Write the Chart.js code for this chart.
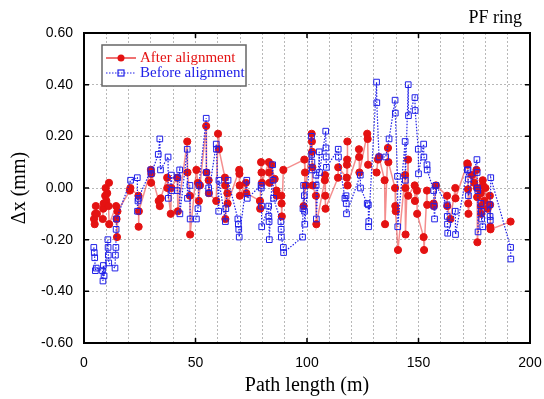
<!DOCTYPE html>
<html>
<head>
<meta charset="utf-8">
<script src="https://cdn.jsdelivr.net/npm/chart.js@4/dist/chart.umd.min.js"></script>
<style>
  html, body { margin: 0; padding: 0; background: #fff; }
  #wrap { width: 544px; height: 399px; position: relative; }
</style>
</head>
<body>
<div id="wrap"><canvas id="c" width="544" height="399"></canvas></div>
<script>
// ---- data ----
const chartTitle = "PF ring";
const xAxisTitle = "Path length (m)";
const yAxisTitle = "\u0394x (mm)";
const seriesNames = ["After alignment", "Before alignment"];
const xTickLabels = [0, 50, 100, 150, 200];
const yTickValues = [-0.6, -0.4, -0.2, 0, 0.2, 0.4, 0.6];

const afterX = [4.5, 4.8, 5.0, 5.3, 5.8, 8.4, 8.6, 8.8, 9.5, 9.7, 10.0, 10.4, 11.2, 11.0, 11.3,
  14.4, 14.6, 14.8, 15.0, 20.6, 20.8, 24.4, 24.5, 24.6, 30.0, 30.1, 30.2, 33.5, 34.0, 34.4,
  37.3, 37.4, 38.9, 39.2, 41.8, 42.1, 46.3, 46.4, 47.5, 47.6, 50.4, 51.1, 51.5, 52.0,
  54.8, 54.9, 55.9, 56.0, 59.3, 60.1, 60.5, 63.2, 63.3, 63.4, 64.3, 64.4,
  69.6, 69.7, 69.8, 69.9, 72.6, 72.8, 78.9, 79.0, 79.4, 79.6, 79.8, 82.9, 83.0, 83.2, 84.0,
  85.5, 86.3, 86.5, 88.5, 88.6, 88.7, 89.4, 98.8, 99.1, 98.5, 99.4, 102.1, 102.2, 102.3,
  102.4, 102.5, 104.0, 104.2, 108.0, 108.1, 108.2, 108.3, 113.9, 114.0, 117.8, 117.9, 118.0,
  118.1, 118.2, 123.3, 123.4, 123.5, 127.0, 127.2, 127.4, 131.2, 131.8, 132.3, 134.8, 135.0,
  136.3, 136.5, 139.5, 139.6, 139.8, 140.8, 144.0, 144.1, 144.2, 145.3, 145.4, 148.3, 148.4,
  149.3, 149.4, 152.3, 152.5, 153.8, 153.9, 156.8, 156.9, 157.8, 162.8, 162.9, 164.3, 166.5,
  166.6, 171.9, 172.1, 172.2, 172.3, 172.4, 174.0, 175.0, 176.0, 176.2, 176.3, 176.4, 177.9,
  178.0, 178.1, 178.8, 178.9, 179.5, 180.0, 181.0, 182.0, 182.1, 182.2, 182.3, 191.3];
const afterY = [-0.12, -0.14, -0.10, -0.07, -0.10, -0.12, -0.08, -0.06, -0.03, 0.00, -0.05, -0.02, 0.02, -0.07, -0.14,
  -0.07, -0.12, -0.19, -0.09, -0.01, 0.00, -0.03, -0.15, -0.09, 0.07, 0.02, 0.055, -0.05, -0.07, -0.04,
  0.04, 0.00, -0.10, 0.00, 0.04, -0.09, 0.18, 0.06, -0.03, -0.18, 0.07, 0.02, -0.05, 0.01,
  0.24, 0.06, 0.03, -0.02, -0.05, 0.21, 0.15, 0.04, 0.01, -0.12, -0.02, -0.06,
  0.07, 0.055, 0.01, -0.03, 0.02, -0.02, -0.05, -0.08, 0.10, 0.06, 0.02, 0.10, 0.06, 0.02, 0.09,
  0.035, -0.01, -0.03, -0.03, -0.06, -0.11, 0.07, 0.11, 0.06, -0.07, 0.01, 0.21, 0.18, 0.14,
  0.08, 0.01, -0.03, -0.14, 0.03, 0.05, -0.03, -0.08, 0.04, 0.08, 0.04, 0.09, 0.11,
  0.18, 0.01, 0.15, 0.12, 0.06, 0.21, 0.19, 0.09, 0.06, 0.11, 0.12, 0.03, -0.14,
  0.155, 0.10, 0.00, -0.07, -0.09, -0.24, 0.05, 0.00, -0.18, 0.11, -0.03, 0.01, -0.05,
  -0.01, -0.10, -0.19, -0.24, -0.01, -0.065, -0.06, -0.07, 0.01, -0.03, -0.07, -0.12, 0.00,
  -0.04, 0.095, 0.09, -0.005, -0.06, -0.10, 0.05, 0.02, 0.07, 0.00, -0.035, -0.21, -0.02,
  -0.07, -0.10, 0.03, 0.01, -0.05, 0.00, -0.08, -0.03, -0.065, -0.15, -0.16, -0.13];

const beforeX = [4.4, 4.6, 4.8, 5.1, 5.5, 8.3, 8.5, 8.7, 9.0, 10.7, 10.8, 10.9, 11.1, 13.9, 14.1,
  14.3, 14.4, 14.6, 20.9, 23.9, 24.0, 24.2, 24.4, 30.0, 30.1, 33.3, 34.0, 34.3, 37.7, 37.8,
  39.2, 39.4, 41.8, 42.1, 42.9, 43.0, 46.3, 46.4, 47.5, 47.6, 50.4, 51.1, 51.5, 54.8, 54.9,
  55.9, 56.0, 59.3, 59.4, 60.4, 60.5, 63.4, 63.6, 64.6, 69.0, 69.2, 69.4, 69.6, 73.0, 73.2,
  79.4, 79.5, 79.6, 79.7, 82.8, 82.9, 83.0, 83.1, 84.6, 84.8, 85.0, 88.3, 88.4, 88.5, 89.4,
  89.5, 98.0, 98.2, 98.5, 98.8, 98.9, 99.0, 102.0, 102.1, 102.2, 102.3, 104.0, 104.1, 104.2,
  105.5, 105.6, 108.4, 108.5, 108.6, 108.7, 114.0, 114.1, 117.0, 117.5, 117.6, 117.7, 123.9,
  124.0, 127.0, 127.5, 127.6, 127.7, 131.2, 131.3, 132.3, 135.3, 136.8, 139.5, 139.6, 140.6,
  140.7, 144.0, 144.1, 145.4, 145.5, 148.4, 148.5, 149.9, 150.0, 152.3, 152.4, 153.8, 153.9,
  156.8, 156.9, 157.2, 157.8, 162.8, 162.9, 163.0, 163.1, 166.5, 166.6, 171.9, 172.2, 172.3,
  172.4, 176.2, 176.3, 176.4, 176.6, 176.7, 178.8, 178.0, 178.2, 178.3, 182.0, 182.1, 182.2,
  182.4, 191.3, 191.4];
const beforeY = [-0.23, -0.25, -0.27, -0.32, -0.31, -0.32, -0.36, -0.30, -0.34, -0.20, -0.23, -0.26, -0.29, -0.31, -0.26,
  -0.23, -0.16, -0.12, 0.03, 0.04, -0.09, -0.05, -0.04, 0.07, 0.055, 0.13, 0.19, 0.07, 0.12, -0.04,
  0.05, -0.01, -0.01, 0.04, 0.07, -0.10, 0.15, -0.04, 0.01, -0.12, -0.12, -0.08, 0.01, 0.27, 0.06,
  0.00, -0.02, 0.17, 0.15, -0.09, 0.03, -0.13, -0.08, 0.03, -0.12, -0.14, -0.16, -0.19, 0.03, -0.04,
  0.01, 0.00, -0.07, -0.15, -0.07, -0.11, -0.13, -0.20, 0.09, 0.03, -0.04, -0.13, -0.16, -0.19, -0.23,
  -0.25, -0.19, -0.08, 0.01, -0.03, -0.09, -0.14, 0.20, 0.13, 0.10, 0.07, 0.05, 0.01, -0.12,
  0.14, 0.06, 0.22, 0.155, 0.12, 0.08, 0.15, 0.12, -0.04, -0.03, -0.06, -0.10, 0.05,
  0.00, -0.06, -0.065, -0.15, -0.13, 0.41, 0.33, 0.12, 0.12, 0.19, 0.34, 0.29, 0.045,
  -0.15, 0.18, 0.03, 0.40, 0.28, 0.35, 0.30, 0.15, 0.055, 0.17, 0.12, 0.09, 0.07,
  -0.01, -0.07, -0.12, 0.01, -0.065, -0.11, -0.14, -0.175, -0.09, -0.18, 0.07, 0.07, 0.035,
  -0.03, 0.11, 0.06, 0.00, -0.01, -0.17, -0.15, -0.06, -0.09, -0.12, -0.065, -0.11, -0.125,
  0.04, -0.23, -0.275];

// ---- styles ----
const RED = '#e41212';
const RED_LINE = 'rgba(235,50,50,0.55)';
const BLUE = '#2020e8';
const SERIF = '"Liberation Serif", "Times New Roman", serif';
const SANS = '"Liberation Sans", Arial, sans-serif';

const toPts = (xs, ys) => xs.map((x, i) => ({ x: x, y: ys[i] }));

const framePlugin = {
  id: 'frame',
  afterDatasetsDraw(chart) {
    const { ctx, chartArea: a, scales } = chart;
    ctx.save();
    // inward tick marks
    ctx.strokeStyle = '#000';
    ctx.lineWidth = 1.5;
    const tl = 5;
    xTickLabels.forEach(v => {
      const px = scales.x.getPixelForValue(v);
      ctx.beginPath();
      ctx.moveTo(px, a.bottom); ctx.lineTo(px, a.bottom - tl);
      ctx.moveTo(px, a.top); ctx.lineTo(px, a.top + tl);
      ctx.stroke();
    });
    yTickValues.forEach(v => {
      const py = scales.y.getPixelForValue(v);
      ctx.beginPath();
      ctx.moveTo(a.left, py); ctx.lineTo(a.left + tl, py);
      ctx.moveTo(a.right, py); ctx.lineTo(a.right - tl, py);
      ctx.stroke();
    });
    ctx.lineWidth = 2;
    ctx.strokeRect(a.left, a.top, a.right - a.left, a.bottom - a.top);
    // chart title
    ctx.fillStyle = '#000';
    ctx.font = '18px ' + SERIF;
    ctx.textAlign = 'right';
    ctx.textBaseline = 'middle';
    ctx.fillText(chartTitle, a.right - 8, 18);
    // legend
    const lx = a.left + 18, ly = a.top + 12, lw = 144, lh = 41;
    ctx.fillStyle = '#fff';
    ctx.fillRect(lx, ly, lw, lh);
    ctx.strokeStyle = '#666';
    ctx.lineWidth = 1.5;
    ctx.strokeRect(lx, ly, lw, lh);
    const rows = [ly + 13, ly + 28];
    // after
    ctx.strokeStyle = RED; ctx.lineWidth = 1.2; ctx.setLineDash([]);
    ctx.beginPath(); ctx.moveTo(lx + 4, rows[0]); ctx.lineTo(lx + 34, rows[0]); ctx.stroke();
    ctx.fillStyle = RED;
    ctx.beginPath(); ctx.arc(lx + 19, rows[0], 3.5, 0, Math.PI * 2); ctx.fill();
    // before
    ctx.strokeStyle = BLUE; ctx.lineWidth = 1.2; ctx.setLineDash([1.5, 1.5]);
    ctx.beginPath(); ctx.moveTo(lx + 4, rows[1]); ctx.lineTo(lx + 34, rows[1]); ctx.stroke();
    ctx.setLineDash([]);
    ctx.strokeRect(lx + 16, rows[1] - 3, 6, 6);
    ctx.font = '15px ' + SERIF;
    ctx.textAlign = 'left';
    ctx.fillStyle = RED;
    ctx.fillText(seriesNames[0], lx + 38, rows[0]);
    ctx.fillStyle = BLUE;
    ctx.fillText(seriesNames[1], lx + 38, rows[1]);
    ctx.restore();
  }
};

new Chart(document.getElementById('c'), {
  type: 'scatter',
  data: {
    datasets: [
      {
        label: seriesNames[0],
        data: toPts(afterX, afterY),
        showLine: true,
        borderColor: RED_LINE,
        borderWidth: 1.5,
        pointRadius: 3.6,
        pointBorderWidth: 1,
        pointBackgroundColor: RED,
        pointBorderColor: RED,
        order: 2
      },
      {
        label: seriesNames[1],
        data: toPts(beforeX, beforeY),
        showLine: true,
        borderColor: BLUE,
        borderWidth: 1.2,
        borderDash: [1.5, 1.5],
        pointStyle: 'rect',
        pointRadius: 4,
        pointBorderWidth: 1,
        pointBackgroundColor: 'rgba(255,255,255,0)',
        pointBorderColor: BLUE,
        order: 1
      }
    ]
  },
  options: {
    responsive: false,
    animation: false,
    devicePixelRatio: 1,
    layout: { padding: { top: 33, right: 14, left: 0, bottom: 0 } },
    plugins: { legend: { display: false }, tooltip: { enabled: false }, title: { display: false } },
    scales: {
      x: {
        type: 'linear', min: 0, max: 200,
        afterFit(s) { s.height = 56; s.paddingLeft = 0; s.paddingRight = 0; },
        border: { display: false, dash: [2, 2] },
        grid: { color: '#b8b8b8', lineWidth: 1, drawTicks: false },
        ticks: {
          stepSize: 10, padding: 12, color: '#000', maxRotation: 0, autoSkip: false,
          font: { family: SANS, size: 14 },
          callback: v => (xTickLabels.includes(v) ? String(v) : '')
        },
        title: { display: true, text: xAxisTitle, color: '#000',
          font: { family: SERIF, size: 20, lineHeight: 1.2 }, padding: { top: 0, bottom: 1 } }
      },
      y: {
        type: 'linear', min: -0.6, max: 0.6,
        afterFit(s) { s.width = 84; s.paddingTop = 0; s.paddingBottom = 0; },
        border: { display: false, dash: [2, 2] },
        grid: { color: '#b8b8b8', lineWidth: 1, drawTicks: false },
        ticks: {
          stepSize: 0.2, padding: 11, color: '#000',
          font: { family: SANS, size: 14 },
          callback: v => (Math.abs(v) < 1e-9 ? '0.00' : v.toFixed(2))
        },
        title: { display: true, text: yAxisTitle, color: '#000',
          font: { family: SERIF, size: 20, lineHeight: 1.2 }, padding: { top: 8, bottom: 0 } }
      }
    }
  },
  plugins: [framePlugin]
});
</script>
</body>
</html>
